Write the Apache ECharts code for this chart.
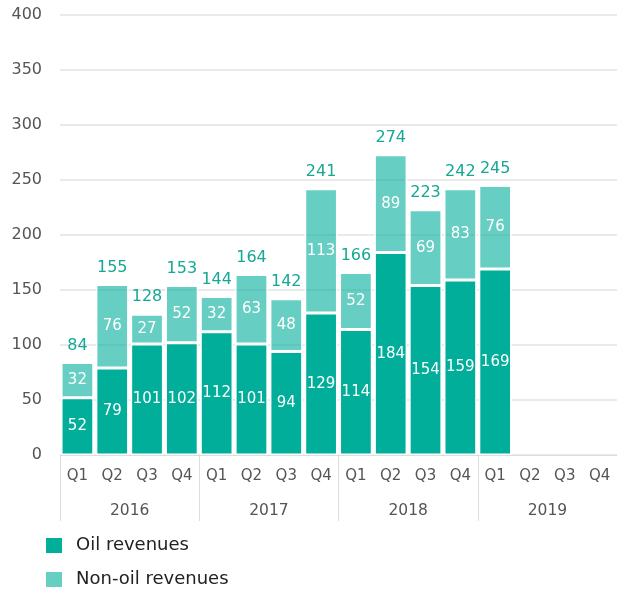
<!DOCTYPE html>
<html>
<head>
<meta charset="utf-8">
<script src="https://cdn.jsdelivr.net/npm/echarts@6/dist/echarts.min.js"></script>
<style>
  html, body { margin: 0; padding: 0; background: #fff; }
  #chart { width: 617px; height: 591px; }
</style>
</head>
<body>
<div id="chart"></div>
<script>
// quarters and years
const quarters = ["Q1", "Q2", "Q3", "Q4", "Q1", "Q2", "Q3", "Q4", "Q1", "Q2", "Q3", "Q4", "Q1", "Q2", "Q3", "Q4"];
const years = ["2016", "2017", "2018", "2019"];

// revenues
const oilRevenues = [52, 79, 101, 102, 112, 101, 94, 129, 114, 184, 154, 159, 169, null, null, null];
const nonOilRevenues = [32, 76, 27, 52, 32, 63, 48, 113, 52, 89, 69, 83, 76, null, null, null];
const totals = [84, 155, 128, 153, 144, 164, 142, 241, 166, 274, 223, 242, 245, null, null, null];

const yTicks = { min: 0, max: 400, interval: 50 };

const font = "DejaVu Sans";
const teal = "#00ae99";
const lightTeal = "rgba(0, 174, 153, 0.6)";

const chart = echarts.init(document.getElementById("chart"));

// one legend per row so the two rows never wrap into columns
function legendRow(name, top) {
  return {
    left: 44,
    top: top,
    padding: 0,
    itemWidth: 18,
    itemHeight: 17,
    icon: "rect",
    data: [name],
    textStyle: { fontFamily: font, fontSize: 18, color: "#222", padding: [0, 0, 0, 8] },
  };
}

const option = {
  animation: false,
  textStyle: { fontFamily: font },
  grid: {
    left: 60,
    right: -5,
    top: 15,
    bottom: 136,
  },
  legend: [legendRow("Oil revenues", 536), legendRow("Non-oil revenues", 570)],
  xAxis: [
    {
      type: "category",
      data: quarters,
      axisLine: { lineStyle: { color: "#dddddd", width: 1 } },
      axisTick: { show: false },
      axisLabel: { color: "#555", fontSize: 15, margin: 14, fontFamily: font },
    },
    {
      type: "category",
      data: years,
      position: "bottom",
      axisLine: { show: false },
      axisTick: { show: true, length: 66, lineStyle: { color: "#dddddd" } },
      axisLabel: { color: "#555", fontSize: 15.5, margin: 48, fontFamily: font },
    },
  ],
  yAxis: {
    type: "value",
    min: yTicks.min,
    max: yTicks.max,
    interval: yTicks.interval,
    axisLine: { show: false },
    axisTick: { show: false },
    splitLine: { lineStyle: { color: "#e3e3e3", width: 1.5 } },
    axisLabel: { color: "#555", fontSize: 16, margin: 18, fontFamily: font },
  },
  series: [
    {
      name: "Oil revenues",
      type: "bar",
      stack: "rev",
      data: oilRevenues,
      barCategoryGap: "6%",
      itemStyle: { color: teal, borderColor: "#fff", borderWidth: 1.5 },
      label: {
        show: true,
        position: "inside",
        color: "#fff",
        fontSize: 15,
        fontFamily: font,
      },
    },
    {
      name: "Non-oil revenues",
      type: "bar",
      stack: "rev",
      data: nonOilRevenues,
      itemStyle: { color: lightTeal, borderColor: "#fff", borderWidth: 1.5 },
      label: {
        show: true,
        position: "inside",
        color: "#fff",
        fontSize: 15,
        fontFamily: font,
      },
    },
    {
      name: "total",
      type: "bar",
      stack: "rev",
      data: totals.map((t) => (t == null ? null : 0)),
      itemStyle: { color: "transparent" },
      label: {
        show: true,
        position: "top",
        distance: 9,
        color: "#15a893",
        fontSize: 16,
        fontFamily: font,
        formatter: (p) => (totals[p.dataIndex] == null ? "" : totals[p.dataIndex]),
      },
    },
  ],
};

chart.setOption(option);
</script>
</body>
</html>
